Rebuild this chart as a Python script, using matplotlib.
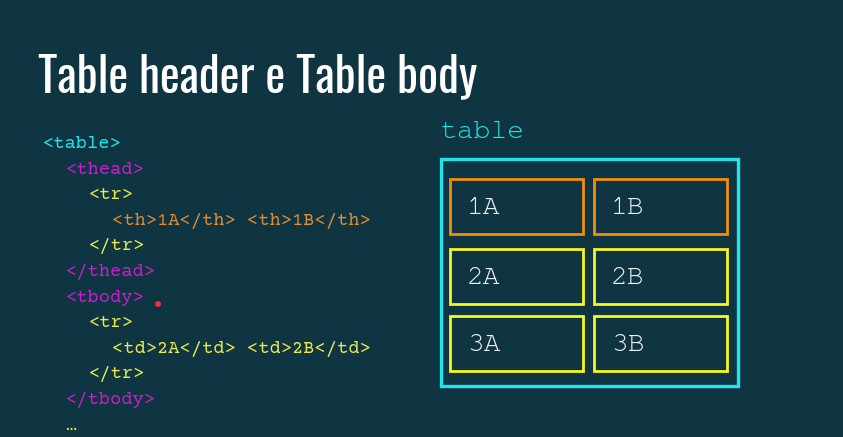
import matplotlib.pyplot as plt
from matplotlib.patches import Rectangle, Circle

# colores
BG = '#0f3442'
CYAN = '#1ee6ec'
MAGENTA = '#c81fcc'
YELLOW = '#eaea50'
ORANGE = '#e08d30'
BOX_ORANGE = '#f0900a'
BOX_YELLOW = '#f8f81c'
WHITE = '#f2f2f2'
MONO = ['FreeMono', 'Liberation Mono', 'DejaVu Sans Mono']
CODE_FONT = ['Courier Prime', 'FreeMono', 'DejaVu Sans Mono']

title = 'Table header e Table body'

# lineas de codigo: (nivel de indentacion, texto, color)
code_levels = [0, 1, 2, 3, 2, 1, 1, 2, 3, 2, 1, 1]
code_texts = ['<table>', '<thead>', '<tr>', '<th>1A</th> <th>1B</th>', '</tr>', '</thead>',
              '<tbody>', '<tr>', '<td>2A</td> <td>2B</td>', '</tr>', '</tbody>', '…']
code_colors = [CYAN, MAGENTA, YELLOW, ORANGE, YELLOW, MAGENTA,
               MAGENTA, YELLOW, YELLOW, YELLOW, MAGENTA, YELLOW]

table_label = 'table'
cell_labels = [['1A', '1B'], ['2A', '2B'], ['3A', '3B']]
row_colors = [BOX_ORANGE, BOX_YELLOW, BOX_YELLOW]

fig = plt.figure(figsize=(8.43, 4.37), dpi=100, facecolor=BG)
ax = fig.add_axes([0, 0, 1, 1])
ax.set_facecolor(BG)
ax.set_xlim(0, 843)
ax.set_ylim(437, 0)
ax.axis('off')

# titulo
ax.text(38, 92, title, color='white', fontsize=33.9, family=['Oswald', 'DejaVu Sans'],
        ha='left', va='baseline')

# codigo
for i, (lvl, txt, col) in enumerate(zip(code_levels, code_texts, code_colors)):
    ax.text(43 + lvl * 23, 144 + i * 25.6, txt, color=col, fontsize=13.5,
            family=CODE_FONT, ha='left', va='center')

# punto rojo
ax.add_patch(Circle((158, 304), 2.2, color='#ff2a3a', zorder=5))

# tabla dibujada
ax.text(441, 132, table_label, color=CYAN, fontsize=20.2,
        family=MONO, ha='left', va='center')
ax.add_patch(Rectangle((441, 159), 297, 227, fill=False, edgecolor=CYAN, linewidth=2.4))

col_x = [450, 594]
row_y = [179, 249, 316]
cell_w, cell_h = 133, 55
for r, row in enumerate(cell_labels):
    for c, lab in enumerate(row):
        ax.add_patch(Rectangle((col_x[c], row_y[r]), cell_w, cell_h, fill=False,
                               edgecolor=row_colors[r], linewidth=2.0))
        ax.text(col_x[c] + 17, row_y[r] + cell_h / 2 + 1.5, lab, color=WHITE, fontsize=20.2,
                family=MONO, ha='left', va='center')

fig.savefig('out.png', dpi=100, facecolor=BG)
